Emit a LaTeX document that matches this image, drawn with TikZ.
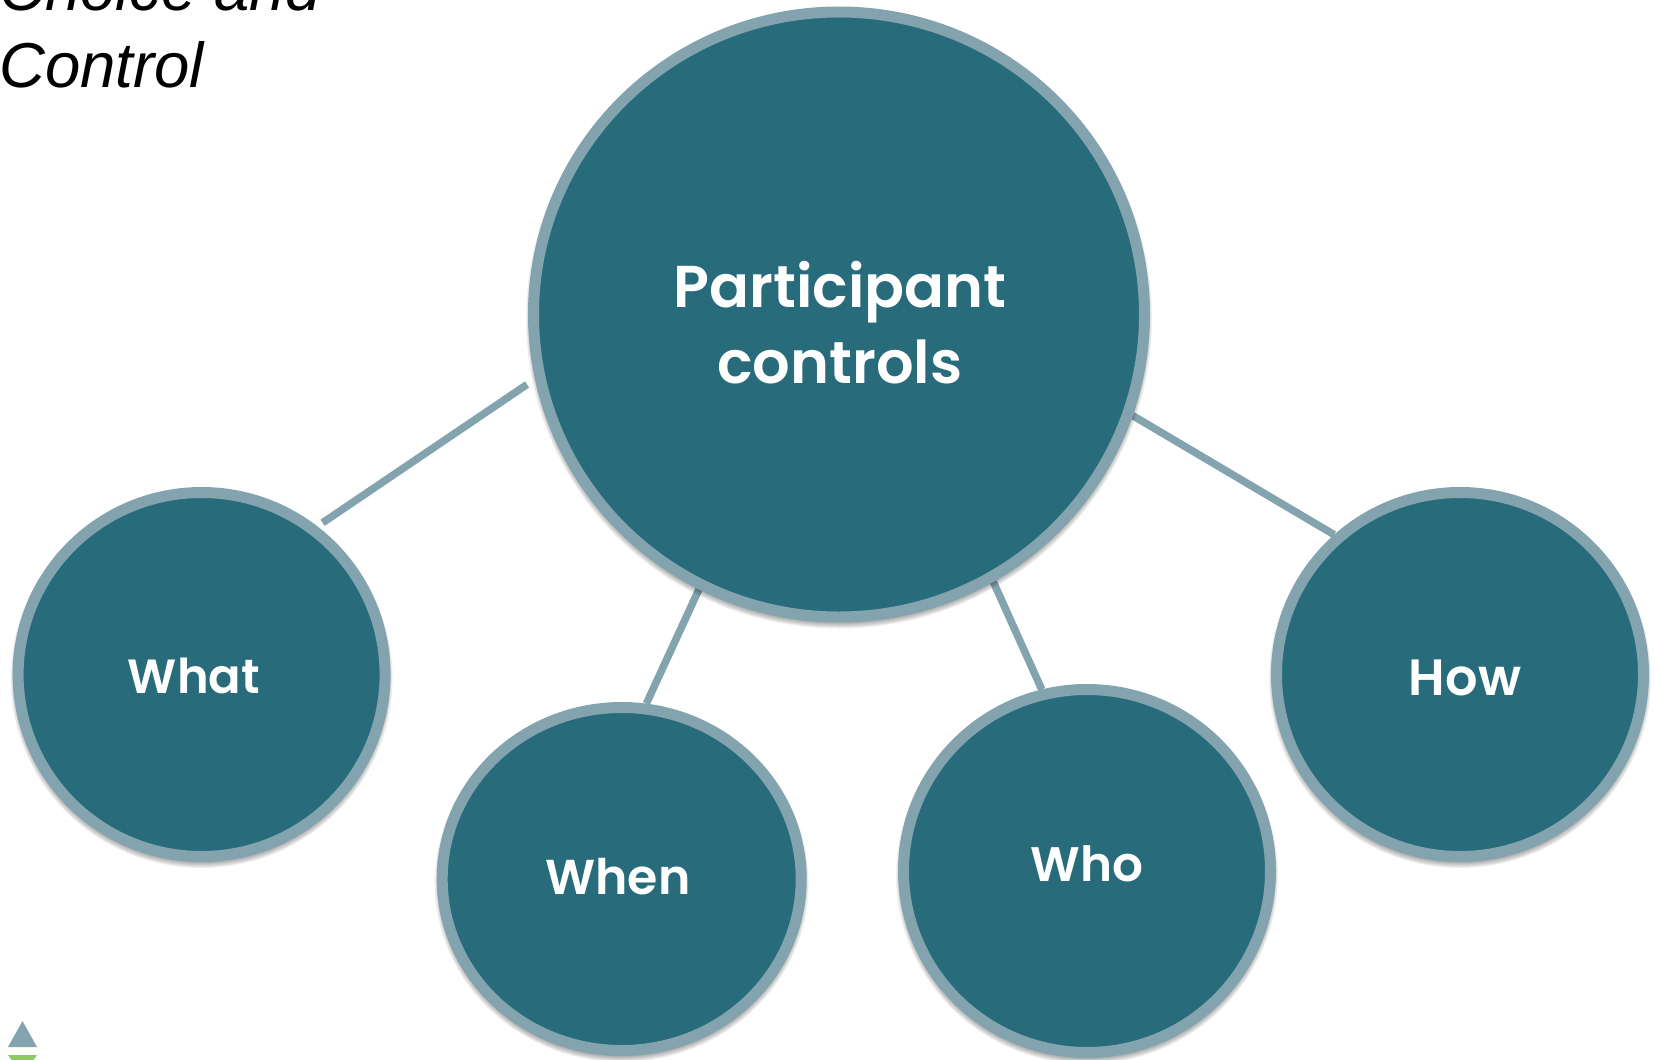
\documentclass[tikz,border=0pt]{standalone}
\usepackage{fontspec}
\setmainfont{Liberation Sans}
\newfontfamily\gothic{Poppins SemiBold}
\usetikzlibrary{shapes.geometric}
\definecolor{teal}{HTML}{286C7C}
\definecolor{rim}{HTML}{83A3AE}
\definecolor{leaf}{HTML}{8CCB5E}
\pgfdeclarelayer{linkslayer}
\pgfdeclarelayer{shadowlayer}
\pgfsetlayers{linkslayer,shadowlayer,main}
\tikzset{
  bubble/.style={ellipse,draw=rim,fill=teal,line width=11pt,inner sep=0pt},
  caption/.style={text=white,font=\gothic\fontsize{#1}{#1}\selectfont,align=center,inner sep=0pt},
  link/.style={draw=rim,line width=7.5pt},
  titletext/.style={font=\itshape\fontsize{63.5}{64}\selectfont,anchor=base west,inner sep=0pt}
}
\begin{document}
\begin{tikzpicture}[x=1pt,y=-1pt]
\useasboundingbox (0,0) rectangle (1655,1060);
\clip (0,0) rectangle (1655,1060);
\node[bubble,minimum width=611pt,minimum height=605pt] (main) at (839,314.5) {};
\node[bubble,minimum width=367pt,minimum height=364pt] (what) at (201.6,674.5) {};
\node[bubble,minimum width=359pt,minimum height=343pt] (when) at (621.7,879) {};
\node[bubble,minimum width=367pt,minimum height=363pt] (who) at (1087,871) {};
\node[bubble,minimum width=367pt,minimum height=364pt] (how) at (1460,674.5) {};
\node[caption=59] (maintext) at (840,323) {Participant\\[16pt]controls};
\node[caption=48] (whattext) at (194,676) {What};
\node[caption=49] (whentext) at (618,877) {When};
\node[caption=48.5] (whotext) at (1087,864) {Who};
\node[caption=51] (howtext) at (1465,678) {How};
\node[titletext] (t1) at (-1,10) {Choice and};
\node[titletext] (t2) at (-1,87.5) {Control};
\begin{pgfonlayer}{linkslayer}
\draw[link,shorten <=6.3pt,shorten >=9.5pt] (what.52.5) -- (main.192.1);
\draw[link] (when.82) -- (main.243.8);
\draw[link] (who.104.3) -- (main.300);
\draw[link] (how.132.7) -- (main.341.5);
\end{pgfonlayer}
\begin{pgfonlayer}{shadowlayer}
\foreach \n/\rx/\ry in {main/311/308,what/189/187.5,when/185/177,who/189/187,how/189/187.5}{
  \foreach \d in {0,1,...,6}{
    \fill[black,opacity=.06] ([yshift=-4pt]\n.center) ellipse ({\rx+\d-4} and {\ry+\d-4});
  }
}
\end{pgfonlayer}
\fill[rim] (22.5,1021) -- (37,1047) -- (8,1047) -- cycle;
\fill[leaf] (8,1055) -- (37,1055) -- (33.5,1060) -- (11.5,1060) -- cycle;
\end{tikzpicture}
\end{document}
